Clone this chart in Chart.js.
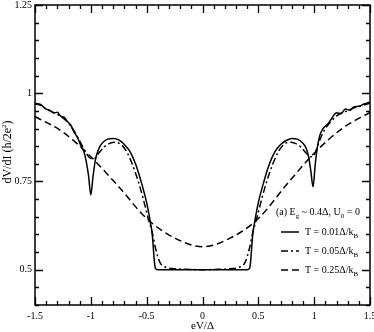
<!DOCTYPE html>
<html>
<head>
<meta charset="utf-8">
<script src="https://cdn.jsdelivr.net/npm/chart.js@4"></script>
<style>
  html, body { margin: 0; padding: 0; background: #fff; }
</style>
</head>
<body>
<canvas id="myChart" width="374" height="332"></canvas>
<script>
// dV/dI curves for three temperatures
const xLow = [-1.5, -1.45, -1.4, -1.37, -1.33, -1.3, -1.27, -1.24, -1.21, -1.18, -1.15, -1.12, -1.09, -1.06, -1.04, -1.02, -1.0, -0.98, -0.96, -0.93, -0.9, -0.85, -0.8, -0.75, -0.7, -0.65, -0.6, -0.55, -0.5, -0.47, -0.45, -0.44, -0.43, -0.42, -0.4, -0.2, 0, 0.2, 0.4, 0.42, 0.43, 0.44, 0.45, 0.47, 0.5, 0.55, 0.6, 0.65, 0.7, 0.75, 0.8, 0.85, 0.9, 0.93, 0.95, 0.97, 0.99, 1.01, 1.03, 1.05, 1.08, 1.12, 1.16, 1.2, 1.24, 1.28, 1.32, 1.36, 1.4, 1.45, 1.5];
const yLow = [0.972, 0.968, 0.955, 0.952, 0.944, 0.946, 0.935, 0.932, 0.92, 0.91, 0.89, 0.875, 0.852, 0.832, 0.805, 0.765, 0.712, 0.765, 0.81, 0.842, 0.858, 0.87, 0.872, 0.868, 0.855, 0.835, 0.8, 0.75, 0.69, 0.64, 0.6, 0.56, 0.52, 0.503, 0.5, 0.5, 0.5, 0.5, 0.5, 0.503, 0.52, 0.56, 0.6, 0.64, 0.69, 0.75, 0.8, 0.835, 0.855, 0.866, 0.872, 0.87, 0.858, 0.843, 0.82, 0.78, 0.735, 0.8, 0.85, 0.88, 0.9, 0.912, 0.93, 0.945, 0.942, 0.955, 0.952, 0.962, 0.963, 0.97, 0.975];

const xMid = [-1.5, -1.45, -1.4, -1.35, -1.3, -1.25, -1.2, -1.15, -1.1, -1.05, -1.0, -0.97, -0.93, -0.88, -0.83, -0.78, -0.73, -0.68, -0.63, -0.58, -0.53, -0.49, -0.45, -0.42, -0.38, -0.33, -0.25, -0.15, 0, 0.15, 0.25, 0.33, 0.38, 0.42, 0.45, 0.49, 0.53, 0.58, 0.63, 0.68, 0.73, 0.78, 0.83, 0.88, 0.93, 0.97, 1.0, 1.03, 1.06, 1.1, 1.15, 1.2, 1.25, 1.3, 1.35, 1.4, 1.45, 1.5];
const yMid = [0.97, 0.966, 0.955, 0.948, 0.94, 0.93, 0.915, 0.893, 0.865, 0.835, 0.815, 0.815, 0.83, 0.848, 0.858, 0.861, 0.855, 0.835, 0.8, 0.755, 0.7, 0.65, 0.605, 0.56, 0.52, 0.507, 0.503, 0.501, 0.5, 0.501, 0.503, 0.507, 0.52, 0.56, 0.605, 0.65, 0.7, 0.755, 0.8, 0.835, 0.855, 0.861, 0.858, 0.848, 0.83, 0.82, 0.825, 0.85, 0.875, 0.9, 0.92, 0.935, 0.945, 0.95, 0.958, 0.962, 0.967, 0.972];

const xHigh = [-1.5, -1.25, -1.0, -0.75, -0.5, -0.25, 0, 0.25, 0.5, 0.75, 1.0, 1.25, 1.5];
const yHigh = [0.934, 0.89, 0.82, 0.735, 0.645, 0.59, 0.565, 0.59, 0.645, 0.74, 0.83, 0.9, 0.946];

const xTickLabels = ["-1.5", "-1", "-0.5", "0", "0.5", "1", "1.5"];
const yTickLabels = ["0.5", "0.75", "1", "1.25"];
const legendTemps = ["0.01", "0.05", "0.25"];

const FONT = "10px 'Liberation Serif', 'DejaVu Serif', serif";
const SMALL = "7px 'Liberation Serif', 'DejaVu Serif', serif";

function pts(xv, yv) {
  return xv.map((x, i) => ({ x: x, y: yv[i] }));
}

// draw text pieces in a row with sub/superscripts, returns end x
function richText(ctx, parts, x, y, base) {
  for (const p of parts) {
    ctx.font = (p.sub || p.sup) ? SMALL : base;
    ctx.fillText(p.t, x, y + (p.sub ? 3 : p.sup ? -5 : 0));
    x += ctx.measureText(p.t).width;
  }
  return x;
}

function richWidth(ctx, parts, base) {
  let w = 0;
  for (const p of parts) {
    ctx.font = (p.sub || p.sup) ? SMALL : base;
    w += ctx.measureText(p.t).width;
  }
  return w;
}

// labels, titles and the legend
const textPlugin = {
  id: "texts",
  afterDraw(chart) {
    const ctx = chart.ctx;
    const a = chart.chartArea;
    const sx = chart.scales.x, sy = chart.scales.y;
    ctx.save();
    ctx.fillStyle = "#000";
    ctx.strokeStyle = "#000";

    ctx.font = FONT;
    ctx.textAlign = "center";
    ctx.textBaseline = "middle";
    xTickLabels.forEach(t => {
      ctx.fillText(t, sx.getPixelForValue(parseFloat(t)), a.bottom + 11);
    });
    ctx.textAlign = "right";
    yTickLabels.forEach(t => {
      ctx.fillText(t, a.left - 3, sy.getPixelForValue(parseFloat(t)));
    });

    ctx.textAlign = "center";
    ctx.textBaseline = "alphabetic";
    ctx.font = "11px 'Liberation Serif', 'DejaVu Serif', serif";
    ctx.fillText("eV/\u0394", (a.left + a.right) / 2, 329);

    const YFONT = "12px 'Liberation Serif', 'DejaVu Serif', serif";
    ctx.save();
    ctx.translate(11, 152);
    ctx.rotate(-Math.PI / 2);
    ctx.textAlign = "left";
    const yParts = [{ t: "dV/dI (h/2e" }, { t: "2", sup: true }, { t: ")" }];
    richText(ctx, yParts, -richWidth(ctx, yParts, YFONT) / 2, 0, YFONT);
    ctx.restore();

    ctx.textAlign = "left";
    ctx.textBaseline = "alphabetic";
    richText(ctx, [{ t: "(a) E" }, { t: "g", sub: true }, { t: " ~ 0.4\u0394, U" }, { t: "0", sub: true }, { t: " = 0" }], 276, 215, FONT);
    const rowsY = [232, 251, 270];
    chart.data.datasets.forEach((ds, i) => {
      ctx.beginPath();
      ctx.setLineDash(ds.borderDash || []);
      ctx.lineWidth = 1.5;
      ctx.moveTo(281, rowsY[i]);
      ctx.lineTo(299, rowsY[i]);
      ctx.stroke();
      ctx.setLineDash([]);
      richText(ctx, [{ t: "T = " + legendTemps[i] + "\u0394/k" }, { t: "B", sub: true }], 305, rowsY[i] + 3, FONT);
    });
    ctx.restore();
  }
};

// box and inward ticks, drawn last, as strokes like the box
const framePlugin = {
  id: "frame",
  afterDraw(chart) {
    const ctx = chart.ctx;
    const a = chart.chartArea;
    const sx = chart.scales.x, sy = chart.scales.y;
    ctx.save();
    ctx.setLineDash([]);
    ctx.strokeStyle = "#000";
    ctx.lineWidth = 1.3;
    ctx.beginPath();
    for (let i = 0; i <= 30; i++) {
      const px = Math.round(sx.getPixelForValue(-1.5 + i * 0.1)) + 0.5;
      const len = i % 5 === 0 ? 8 : 4;
      ctx.moveTo(px, a.bottom);
      ctx.lineTo(px, a.bottom - len);
      ctx.moveTo(px, a.top);
      ctx.lineTo(px, a.top + len);
    }
    for (let i = 0; i <= 17; i++) {
      const py = Math.round(sy.getPixelForValue(0.4 + i * 0.05)) + 0.5;
      const len = (i - 2) % 5 === 0 ? 8 : 4;
      ctx.moveTo(a.left, py);
      ctx.lineTo(a.left + len, py);
      ctx.moveTo(a.right, py);
      ctx.lineTo(a.right - len, py);
    }
    ctx.stroke();
    ctx.lineWidth = 1.5;
    ctx.strokeRect(a.left, a.top, a.right - a.left, a.bottom - a.top);
    ctx.restore();
  }
};

const myChart = new Chart("myChart", {
  type: "line",
  data: {
    datasets: [
      {
        label: "T = 0.01",
        data: pts(xLow, yLow),
        borderColor: "#000",
        borderWidth: 1.5,
        pointRadius: 0,
        cubicInterpolationMode: "monotone"
      },
      {
        label: "T = 0.05",
        data: pts(xMid, yMid),
        borderColor: "#000",
        borderWidth: 1.5,
        borderDash: [7, 3, 2, 3],
        pointRadius: 0,
        cubicInterpolationMode: "monotone"
      },
      {
        label: "T = 0.25",
        data: pts(xHigh, yHigh),
        borderColor: "#000",
        borderWidth: 1.5,
        borderDash: [7, 4],
        pointRadius: 0,
        cubicInterpolationMode: "monotone"
      }
    ]
  },
  options: {
    responsive: false,
    animation: false,
    layout: { padding: { top: 5, right: 4, left: 0, bottom: 0 } },
    plugins: { legend: { display: false }, tooltip: { enabled: false } },
    scales: {
      x: {
        type: "linear",
        min: -1.5, max: 1.5,
        grid: { display: false },
        border: { display: false },
        ticks: { display: false },
        afterFit(s) { s.height = 27; }
      },
      y: {
        min: 0.4, max: 1.25,
        grid: { display: false },
        border: { display: false },
        ticks: { display: false },
        afterFit(s) { s.width = 35; }
      }
    }
  },
  plugins: [textPlugin, framePlugin]
});
</script>
</body>
</html>
